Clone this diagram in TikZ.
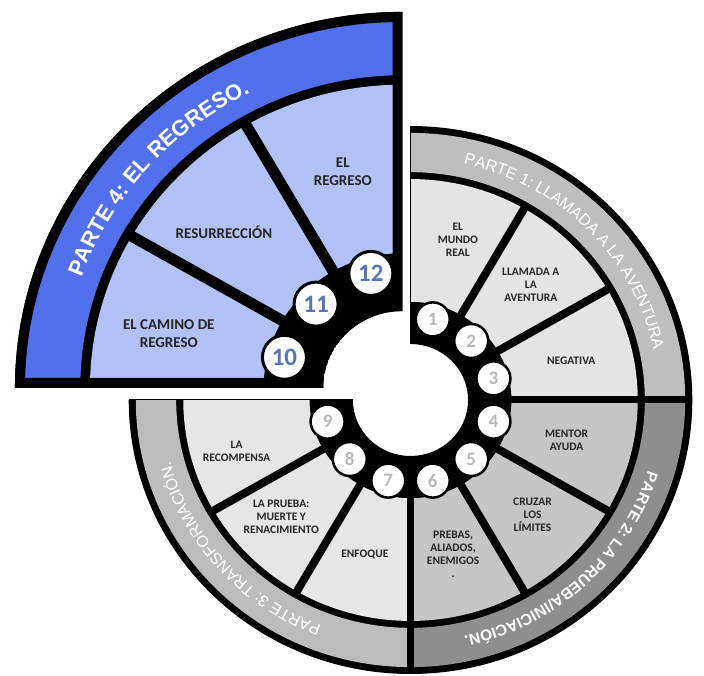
\documentclass[tikz,border=0pt]{standalone}
\usepackage{fontspec}
\setmainfont{Carlito}
\newfontfamily\bandfont{Liberation Sans}
\usetikzlibrary{decorations.text}

\definecolor{bandone}{RGB}{190,190,190}
\definecolor{secone}{RGB}{228,228,228}
\definecolor{bandtwo}{RGB}{142,142,142}
\definecolor{sectwo}{RGB}{198,198,198}
\definecolor{bandthree}{RGB}{188,188,188}
\definecolor{secthree}{RGB}{230,230,230}
\definecolor{bandfour}{RGB}{82,112,236}
\definecolor{secfour}{RGB}{178,194,246}
\definecolor{numfour}{RGB}{88,118,178}

\newcommand\ringpart[5]{\fill[#5] (#1:#4) arc[start angle=#1,end angle=#2,radius=#4] -- (#2:#3) arc[start angle=#2,end angle=#1,radius=#3] -- cycle;}

\tikzset{
  numc/.style={circle,draw=black,line width=2.5pt,fill=white,minimum size=34pt,inner sep=0,font=\fontsize{19}{19}\selectfont\bfseries,text=gray!55},
  numd/.style={numc,minimum size=44pt,line width=3pt,font=\fontsize{25}{25}\selectfont\bfseries,text=numfour},
  lbl/.style={align=center,font=\fontsize{11.5}{13}\selectfont\bfseries,text=black!85},
  lbd/.style={align=center,font=\fontsize{15}{17.5}\selectfont\bfseries,text=black!85},
}

\begin{document}
\begin{tikzpicture}[x=1pt,y=1pt]
\useasboundingbox (0,0) rectangle (704,675);

\begin{scope}[shift={(410.5,275)},xscale=1.01,yscale=0.982]
\ringpart{90}{-180}{57}{279}{black}
\ringpart{90}{0}{232}{272}{bandone}
\ringpart{0}{-90}{232}{272}{bandtwo}
\ringpart{-90}{-180}{232}{272}{bandthree}
\ringpart{90}{0}{100}{225}{secone}
\ringpart{0}{-90}{100}{225}{sectwo}
\ringpart{-90}{-180}{100}{225}{secthree}
\foreach \a in {60,30,-30,-60,-120,-150} \draw[line width=8pt] (\a:95) -- (\a:229);
\foreach \a in {0,-90} \draw[line width=7pt] (\a:60) -- (\a:276);
\draw[line width=1pt] (90:57) -- (90:279);
\draw[line width=1pt] (180:57) -- (180:279);

\foreach \k in {1,...,9} \node[numc] (n\k) at ({75-30*(\k-1)}:85) {\k};

\node[lbl] (mundo) at (74:170) {EL\\MUNDO\\REAL};
\node[lbl] (llamada) at (44.5:167) {LLAMADA A\\LA\\AVENTURA};
\node[lbl] (negativa) at (14:164) {NEGATIVA};
\node[lbl] (mentor) at (-15:160) {MENTOR\\AYUDA};
\node[lbl] (cruzar) at (-44:168) {CRUZAR\\LOS\\LÍMITES};
\node[lbl] (pruebas) at (-75:163) {PREBAS,\\ALIADOS,\\ENEMIGOS\\.};
\node[lbl] (enfoque) at (-106:164) {ENFOQUE};
\node[lbl] (muerte) at (-137:175) {LA PRUEBA:\\MUERTE Y\\RENACIMIENTO};
\node[lbl] (recompensa) at (-163:180) {LA\\RECOMPENSA};

\path[decorate,decoration={text along path,text align=center,text={|\bandfont\fontsize{16}{16}\selectfont\color{white}|PARTE 1: LLAMADA A LA AVENTURA}}] (99.5:246) arc[start angle=99.5,end angle=-10.5,radius=246];
\path[decorate,decoration={text along path,text align=center,text={|\bandfont\bfseries\fontsize{15.5}{15.5}\selectfont\color{white}|PARTE 2: LA PRUEBA/INICIACIÓN.}}] (8:246) arc[start angle=8,end angle=-102,radius=246];
\path[decorate,decoration={text along path,text align=center,text={|\bandfont\fontsize{16}{16}\selectfont\color{white}|PARTE 3: TRANSFORMACIÓN.}}] (-83.5:246) arc[start angle=-83.5,end angle=-193.5,radius=246];
\end{scope}

\begin{scope}[shift={(402.5,287)},xscale=1.389,yscale=1.348]
\clip (180:57) -- (180:279) arc[start angle=180,end angle=90,radius=279] -- (90:57) arc[start angle=90,end angle=180,radius=57] -- cycle;
\ringpart{180}{90}{57}{279}{black}
\ringpart{180}{90}{232}{272}{bandfour}
\ringpart{180}{90}{100}{225}{secfour}
\foreach \a in {150,120} \draw[line width=11pt] (\a:95) -- (\a:229);
\draw[line width=20pt] (180:57) -- (180:279) arc[start angle=180,end angle=90,radius=279] -- (90:57);

\node[numd] (n10) at (165:88) {10};
\node[numd] (n11) at (135:88) {11};
\node[numd] (n12) at (105:88) {12};

\node[lbd] (regreso) at (105:166) {EL\\REGRESO};
\node[lbd] (resurreccion) at (138:173) {RESURRECCIÓN};
\node[lbd] (camino) at (166.5:173) {EL CAMINO DE\\REGRESO};

\path[decorate,decoration={text along path,text align=center,text={|\bandfont\bfseries\fontsize{22}{22}\selectfont\color{white}|PARTE 4: EL REGRESO.}}] (194:245) arc[start angle=194,end angle=84,radius=245];
\end{scope}
\end{tikzpicture}
\end{document}
